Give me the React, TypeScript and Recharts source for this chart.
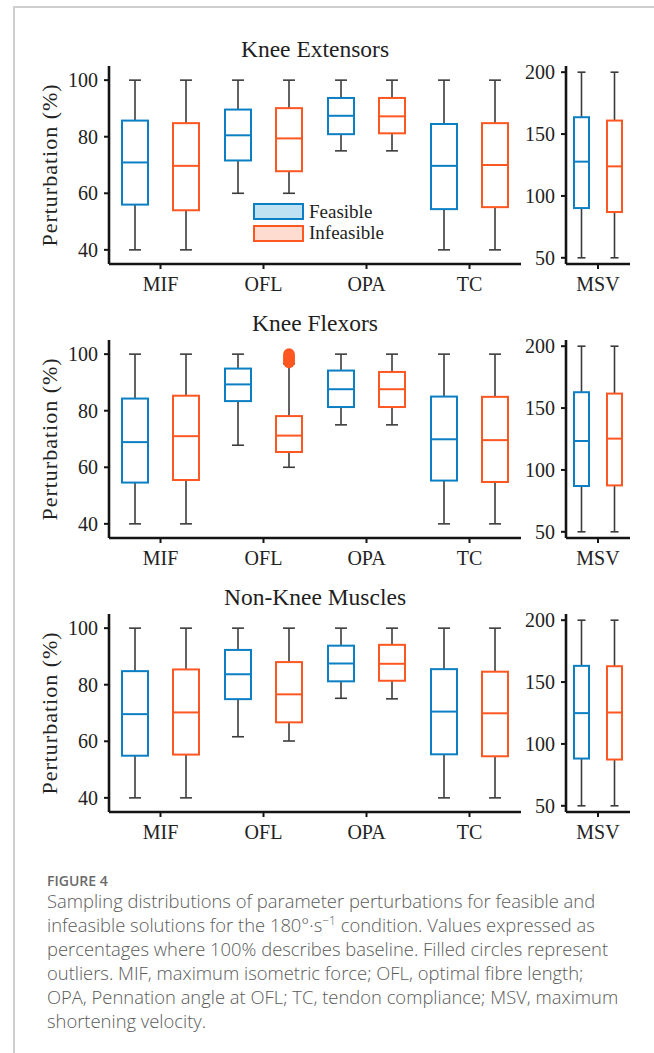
import React from 'react';
import { BarChart, Bar, XAxis, YAxis, Legend } from 'recharts';

// box stats are [min whisker, q1, median, q3, max whisker]
const categories = ['MIF', 'OFL', 'OPA', 'TC'];
const sideCategories = ['MSV'];
const seriesNames = ['Feasible', 'Infeasible'];
const seriesStroke = ['#0B7FC4', '#FF5722'];
const seriesFill = ['#BFE2F3', '#FFDCD0'];
const mainTicks = [40, 60, 80, 100];
const sideTicks = [50, 100, 150, 200];
const panelTitles = ['Knee Extensors', 'Knee Flexors', 'Non-Knee Muscles'];

const extFeasible = [
  [40, 56.0, 70.9, 85.7, 100],
  [60, 71.6, 80.5, 89.6, 100],
  [75, 80.9, 87.4, 93.7, 100],
  [40, 54.4, 69.7, 84.5, 100],
];
const extInfeasible = [
  [40, 54.0, 69.7, 84.8, 100],
  [60, 67.8, 79.4, 90.1, 100],
  [75, 81.2, 87.2, 93.7, 100],
  [40, 55.1, 70.0, 84.8, 100],
];
const extMsvFeasible = [50, 90.2, 127.7, 163.6, 200];
const extMsvInfeasible = [50, 87.0, 123.9, 160.9, 200];

const flxFeasible = [
  [40, 54.6, 68.9, 84.3, 100],
  [67.8, 83.4, 89.3, 94.9, 100],
  [75, 81.3, 87.6, 94.2, 100],
  [40, 55.3, 69.9, 85.0, 100],
];
const flxInfeasible = [
  [40, 55.5, 71.0, 85.3, 100],
  [60, 65.4, 71.2, 78.1, 96.6],
  [75, 81.3, 87.6, 93.7, 100],
  [40, 54.8, 69.6, 84.9, 100],
];
const flxInfeasibleOutliers = [[], [97.1, 97.6, 98.2, 98.8, 99.4, 100], [], []];
const flxMsvFeasible = [50, 87.0, 123.4, 162.8, 200];
const flxMsvInfeasible = [50, 87.5, 125.3, 161.7, 200];

const nkFeasible = [
  [40, 54.9, 69.6, 84.8, 100],
  [61.6, 74.9, 83.7, 92.3, 100],
  [75.2, 81.2, 87.5, 93.8, 100],
  [40, 55.4, 70.5, 85.5, 100],
];
const nkInfeasible = [
  [40, 55.3, 70.2, 85.4, 100],
  [60.1, 66.7, 76.6, 88.0, 100],
  [75, 81.4, 87.4, 94.1, 100],
  [40, 54.7, 69.9, 84.6, 100],
];
const nkMsvFeasible = [50, 88.2, 124.9, 163.1, 200];
const nkMsvInfeasible = [50, 87.4, 125.4, 162.8, 200];

const captionLines = [
  'Sampling distributions of parameter perturbations for feasible and',
  'infeasible solutions for the 180°·s',
  'percentages where 100% describes baseline. Filled circles represent',
  'outliers. MIF, maximum isometric force; OFL, optimal fibre length;',
  'OPA, Pennation angle at OFL; TC, tendon compliance; MSV, maximum',
  'shortening velocity.',
];

const serif = "'Liberation Serif', 'Times New Roman', serif";
const sans = "'Open Sans', 'Noto Sans', sans-serif";
const axisColor = '#141414';
const whiskerColor = '#3c3c3c';

type Row = { name: string; f: number[]; i: number[]; fOut: number[]; iOut: number[] };

const buildRows = (names: string[], f: number[][], i: number[][], iOut?: number[][]): Row[] =>
  names.map((name, k) => ({ name, f: f[k], i: i[k], fOut: [], iOut: iOut ? iOut[k] : [] }));

const panels = [
  {
    title: panelTitles[0],
    top: 66,
    main: buildRows(categories, extFeasible, extInfeasible),
    side: buildRows(sideCategories, [extMsvFeasible], [extMsvInfeasible]),
    legend: true,
  },
  {
    title: panelTitles[1],
    top: 340,
    main: buildRows(categories, flxFeasible, flxInfeasible, flxInfeasibleOutliers),
    side: buildRows(sideCategories, [flxMsvFeasible], [flxMsvInfeasible]),
    legend: false,
  },
  {
    title: panelTitles[2],
    top: 614,
    main: buildRows(categories, nkFeasible, nkInfeasible),
    side: buildRows(sideCategories, [nkMsvFeasible], [nkMsvInfeasible]),
    legend: false,
  },
];

const BoxShape = (props: any) => {
  const { x, y, width, height, stats, outliers, stroke } = props;
  const [lo, q1, med, q3, hi] = stats;
  const top = Math.min(y, y + height);
  const bot = Math.max(y, y + height);
  // linear scale: map value back into the pixel range of the [lo, hi] bar
  const py = (v: number) => bot - ((v - lo) / (hi - lo)) * (bot - top);
  const cx = x + width / 2;
  const cap = Math.max(4, width * 0.23);
  return (
    <g>
      <line x1={cx} x2={cx} y1={py(hi)} y2={py(q3)} stroke={whiskerColor} strokeWidth={1.6} />
      <line x1={cx} x2={cx} y1={py(q1)} y2={py(lo)} stroke={whiskerColor} strokeWidth={1.6} />
      <line x1={cx - cap} x2={cx + cap} y1={py(hi)} y2={py(hi)} stroke={whiskerColor} strokeWidth={1.6} />
      <line x1={cx - cap} x2={cx + cap} y1={py(lo)} y2={py(lo)} stroke={whiskerColor} strokeWidth={1.6} />
      <rect x={x} y={py(q3)} width={width} height={py(q1) - py(q3)} fill="#fff" stroke={stroke} strokeWidth={2} />
      <line x1={x} x2={x + width} y1={py(med)} y2={py(med)} stroke={stroke} strokeWidth={2} />
      {(outliers || []).map((v: number, k: number) => (
        <circle key={k} cx={cx} cy={py(v)} r={5.8} fill={stroke} />
      ))}
    </g>
  );
};

const renderLegend = (props: any) => {
  const payload = props.payload || [];
  return (
    <div>
      {payload.map((entry: any) => {
        const k = seriesNames.indexOf(entry.value);
        return (
          <div key={entry.value} style={{ display: 'flex', alignItems: 'center', height: 21.5 }}>
            <span
              style={{
                display: 'inline-block',
                width: 47,
                height: 13,
                border: `2px solid ${seriesStroke[k]}`,
                background: seriesFill[k],
              }}
            />
            <span style={{ marginLeft: 5, fontFamily: serif, fontSize: 19, color: '#1e1e1e', lineHeight: '18px' }}>
              {entry.value}
            </span>
          </div>
        );
      })}
    </div>
  );
};

const PLOT_H = 198;

const BoxChart = ({ rows, width, yWidth, domain, ticks, barSize, barGap, label, legend }: any) => (
  <BarChart
    width={width}
    height={10 + PLOT_H + 40}
    data={rows}
    margin={{ top: 10, right: 4, bottom: 0, left: 0 }}
    barSize={barSize}
    barGap={barGap}
  >
    <XAxis
      dataKey="name"
      interval={0}
      height={40}
      tickSize={5}
      tickMargin={8}
      axisLine={{ stroke: axisColor, strokeWidth: 2.6 }}
      tickLine={{ stroke: axisColor, strokeWidth: 2 }}
      tick={{ fontSize: 20, fill: '#222', fontFamily: serif }}
    />
    <YAxis
      type="number"
      domain={domain}
      ticks={ticks}
      allowDataOverflow
      width={yWidth}
      tickSize={5}
      tickMargin={6}
      axisLine={{ stroke: axisColor, strokeWidth: 2.6 }}
      tickLine={{ stroke: axisColor, strokeWidth: 2 }}
      tick={{ fontSize: 20, fill: '#222', fontFamily: serif }}
      label={
        label
          ? {
              value: label,
              angle: -90,
              position: 'insideLeft',
              offset: 49,
              style: { textAnchor: 'middle', fontSize: 22, letterSpacing: 1, fontFamily: serif, fill: '#222' },
            }
          : undefined
      }
    />
    {legend && (
      <Legend
        layout="horizontal"
        verticalAlign="middle"
        align="center"
        content={renderLegend}
        wrapperStyle={{ left: 253, top: 145, width: 140 }}
      />
    )}
    <Bar
      name={seriesNames[0]}
      dataKey={(d: Row) => [d.f[0], d.f[4]]}
      fill={seriesFill[0]}
      stroke={seriesStroke[0]}
      isAnimationActive={false}
      shape={(p: any) => {
        const row = (p.payload || p) as Row;
        return <BoxShape {...p} stats={row.f} outliers={row.fOut} stroke={seriesStroke[0]} />;
      }}
    />
    <Bar
      name={seriesNames[1]}
      dataKey={(d: Row) => [d.i[0], d.i[4]]}
      fill={seriesFill[1]}
      stroke={seriesStroke[1]}
      isAnimationActive={false}
      shape={(p: any) => {
        const row = (p.payload || p) as Row;
        return <BoxShape {...p} stats={row.i} outliers={row.iOut} stroke={seriesStroke[1]} />;
      }}
    />
  </BarChart>
);

export default function App() {
  return (
    <div style={{ position: 'absolute', left: 0, top: 0, width: 654, height: 1053, background: '#fff' }}>
      <div
        style={{
          position: 'absolute',
          left: 13,
          top: 6,
          width: 641,
          height: 1047,
          borderTop: '2px solid #cfcfcf',
          borderLeft: '2px solid #cfcfcf',
        }}
      />
      {panels.map((p) => (
        <React.Fragment key={p.title}>
          <div
            style={{
              position: 'absolute',
              left: 109,
              width: 412,
              top: p.top - 17 - 13,
              height: 26,
              lineHeight: '26px',
              textAlign: 'center',
              fontFamily: serif,
              fontSize: 23.5,
              color: '#1e1e1e',
            }}
          >
            {p.title}
          </div>
          <div style={{ position: 'absolute', left: 0, top: p.top - 10 }}>
            <BoxChart
              rows={p.main}
              width={525}
              yWidth={109}
              domain={[35, 105]}
              ticks={mainTicks}
              barSize={26}
              barGap={25}
              label="Perturbation (%)"
              legend={p.legend}
            />
          </div>
          <div style={{ position: 'absolute', left: 516, top: p.top - 10 }}>
            <BoxChart
              rows={p.side}
              width={118}
              yWidth={50}
              domain={[45, 205]}
              ticks={sideTicks}
              barSize={15}
              barGap={18}
            />
          </div>
        </React.Fragment>
      ))}
      <div
        style={{
          position: 'absolute',
          left: 47,
          top: 873,
          fontFamily: sans,
          fontSize: 14,
          lineHeight: '16px',
          color: '#6a6a6a',
          fontWeight: 600,
        }}
      >
        FIGURE 4
      </div>
      <div
        style={{
          position: 'absolute',
          left: 47,
          top: 889,
          fontFamily: sans,
          fontSize: 18.4,
          fontWeight: 300,
          color: '#5a5a5a',
        }}
      >
        {captionLines.map((line, k) => (
          <div key={k} style={{ lineHeight: '23.9px', whiteSpace: 'nowrap' }}>
            {line}
            {k === 1 && (
              <>
                <sup style={{ fontSize: 12, lineHeight: 0 }}>−1</sup> condition. Values expressed as
              </>
            )}
          </div>
        ))}
      </div>
    </div>
  );
}
